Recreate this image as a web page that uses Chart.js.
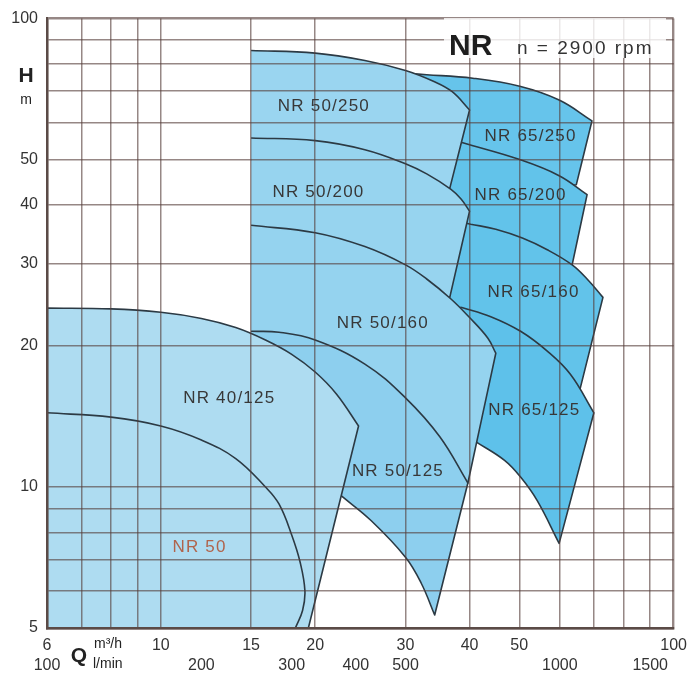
<!DOCTYPE html>
<html>
<head>
<meta charset="utf-8">
<script src="https://cdn.jsdelivr.net/npm/chart.js@4.4.1/dist/chart.umd.min.js"></script>
<style>
body{margin:0;background:#fff;}
#wrap{width:695px;height:678px;}
</style>
</head>
<body>
<div id="wrap"><canvas id="nrChart" width="695" height="678"></canvas></div>
<script>
// Q in m3/h, H in m  (log / log)
const qGrid = [6,7,8,9,10,15,20,30,40,50,60,70,80,90,100];
const hGrid = [5,6,7,8,9,10,20,30,40,50,60,70,80,90,100];
const qTicks = [6,10,15,20,30,40,50,100];
const hTicks = [5,10,20,30,40,50,100];
const lminTicks = [100,200,300,400,500,1000,1500];

// pump fields: outline as pieces of [Q, H], a new piece starts at each corner
const nr40_125 = [
  [[6,5],[6,24.1]],
  [[6,24.1],[8,24.0],[10,23.6],[12,22.9],[14,21.9],[16,20.6],[18,19.2],[20,17.6],[22,15.8],[24.3,13.5]],
  [[24.3,13.5],[19.4,5]],
  [[19.4,5],[6,5]]
];
const nr50 = [[6,14.4],[8,14.1],[10,13.5],[12,12.6],[14,11.5],[16,10.0],[17,9.2],[18,7.9],[18.7,6.9],[19.1,6.0],[18.9,5.45],[18.3,5]];
const nr50_125 = [
  [[15,21.5],[17,21.4],[20,20.6],[25,18.3],[30,15.5],[35,12.8],[39.7,10.2]],
  [[39.7,10.2],[34.2,5.33]],
  [[34.2,5.33],[32.2,6.23],[30,7.08],[25.7,8.48],[22.5,9.57]],
  [[22.5,9.57],[20,12]],[[20,12],[15,15]],[[15,15],[15,21.5]]
];
const nr50_160 = [
  [[15,36.2],[20,34.9],[25,32.6],[30,29.8],[33,27.8],[36.8,25.2],[40,23.0],[43.4,20.8],[45,19.3]],
  [[45,19.3],[39.7,10.2]],
  [[39.7,10.2],[15,15]],[[15,15],[15,36.2]]
];
const nr50_200 = [
  [[15,55.6],[20,54.9],[25,52.5],[30,49.0],[33,46.6],[36.8,43.2],[38.5,41.2],[40,38.8]],
  [[40,38.8],[36.6,25.4]],
  [[36.6,25.4],[15,30]],[[15,30],[15,55.6]]
];
const nr50_250 = [
  [[15,85.5],[20,84.4],[25,81.4],[30,77.5],[34,73.5],[37,69.8],[40,63.8]],
  [[40,63.8],[36.6,43.4]],
  [[36.6,43.4],[15,50]],[[15,50],[15,85.5]]
];
const nr65_125 = [
  [[38.5,24.2],[44.0,23.1],[50.3,21.5],[56.7,19.5],[62.9,17.4],[69.9,14.4]],
  [[69.9,14.4],[59.8,7.58]],
  [[59.8,7.58],[54.2,9.35],[50.3,10.5],[46.8,11.4],[41.1,12.5]],
  [[41.1,12.5],[30,12]],[[30,12],[30,22]],[[30,22],[38.5,24.2]]
];
const nr65_160 = [
  [[40.2,36.4],[45,35.5],[50.7,34.0],[56.7,32.1],[63.4,29.8],[67.8,27.8],[72.8,25.4]],
  [[72.8,25.4],[65.7,16.2]],
  [[65.7,16.2],[50,18]],[[50,18],[34,22]],[[34,22],[34,38]],[[34,38],[40.2,36.4]]
];
const nr65_200 = [
  [[38.8,54.3],[50.1,50.0],[59.8,46.2],[67.8,42.1]],
  [[67.8,42.1],[63.4,29.8]],
  [[63.4,29.8],[50,28]],[[50,28],[34,40]],[[34,40],[34,56]],[[34,56],[38.8,54.3]]
];
const nr65_250 = [
  [[29,76.5],[33,75.9],[40.6,74.6],[50.1,71.7],[59.8,67.0],[69.3,60.5]],
  [[69.3,60.5],[64.6,44.2]],
  [[64.6,44.2],[60,44]],[[60,44],[50,46]],[[50,46],[34,50]],[[34,50],[28,72]],[[28,72],[29,76.5]]
];

const regionNames = ['NR 50/250','NR 50/200','NR 50/160','NR 40/125','NR 50/125','NR 50','NR 65/250','NR 65/200','NR 65/160','NR 65/125'];
const regionLabelQ = [20.8,20.3,27.1,13.6,29.0,11.9,52.6,50.3,53.3,53.5];
const regionLabelH = [65.0,42.5,22.4,15.5,10.8,7.43,56.1,41.9,26.1,14.6];

const EDGE = '#2c3a44';
const GRID = 'rgba(85,62,58,0.62)';
const FRAME = '#5b4b47';
const TENSION = 0.4;
const SERIES_START = 15; // the 50 fields start on the Q = 15 grid line

function pts(a){ return a.map(p=>({x:p[0],y:p[1]})); }
// joining the pieces repeats each corner point, so the spline keeps the corners sharp
function outline(pieces){ return pts([].concat(...pieces)); }
function area(pieces,col){
  return {data:outline(pieces),fill:'shape',backgroundColor:col,borderColor:EDGE,borderWidth:1.6,
    pointRadius:0,tension:TENSION,borderJoinStyle:'round',
    segment:{borderColor: c => (c.p0.parsed.x===SERIES_START && c.p1.parsed.x===SERIES_START) ? 'rgba(0,0,0,0)' : undefined}};
}
function near(list,v){ return list.some(t=>Math.abs(t-v)<1e-6); }

const lminAsQ = lminTicks.map(l=>l*60/1000);
const xTickVals = Array.from(new Set(qGrid.concat(qTicks,lminAsQ))).sort((a,b)=>a-b);

// first dataset is drawn on top
const datasets = [
  {data:pts(nr50),fill:false,borderColor:EDGE,borderWidth:1.6,pointRadius:0,tension:TENSION},
  area(nr40_125,'#aedcf1'),
  area(nr50_125,'#8dcfee'),
  area(nr50_160,'#95d3ef'),
  area(nr50_200,'#97d4ef'),
  area(nr50_250,'#9ad5f0'),
  area(nr65_125,'#5ec1ea'),
  area(nr65_160,'#62c3ea'),
  area(nr65_200,'#62c3ea'),
  area(nr65_250,'#66c4eb')
];

const textPlugin = {
  id:'textPlugin',
  afterDraw(chart){
    const ctx=chart.ctx, xs=chart.scales.x, ys=chart.scales.y;
    ctx.save();
    ctx.textAlign='center'; ctx.textBaseline='middle';
    ctx.font='17px "Liberation Sans", Arial, sans-serif';
    try{ ctx.letterSpacing='1.2px'; }catch(e){}
    regionNames.forEach((n,i)=>{
      ctx.fillStyle = n==='NR 50' ? '#b0644c' : '#383838';
      ctx.fillText(n, xs.getPixelForValue(regionLabelQ[i]), ys.getPixelForValue(regionLabelH[i]));
    });
    // title box
    ctx.fillStyle='rgba(255,255,255,0.82)';
    ctx.fillRect(444,18,222,40);
    ctx.textAlign='left'; ctx.textBaseline='alphabetic';
    ctx.fillStyle='#1e1e1e';
    try{ ctx.letterSpacing='0px'; }catch(e){}
    ctx.font='bold 30px "Liberation Sans", Arial, sans-serif';
    ctx.fillText('NR',449,55);
    ctx.fillStyle='#333';
    try{ ctx.letterSpacing='2px'; }catch(e){}
    ctx.font='19px "Liberation Sans", Arial, sans-serif';
    ctx.fillText('n = 2900 rpm',517,54);
    // axis names
    try{ ctx.letterSpacing='0px'; }catch(e){}
    ctx.textAlign='center'; ctx.textBaseline='middle';
    ctx.fillStyle='#222';
    ctx.font='bold 21px "Liberation Sans", Arial, sans-serif';
    ctx.fillText('H',26,76);
    ctx.fillText('Q',79,656);
    ctx.font='14px "Liberation Sans", Arial, sans-serif';
    ctx.fillText('m',26,100);
    ctx.textAlign='left';
    ctx.fillText('m³/h',94,644);
    ctx.fillText('l/min',93,664);
    ctx.restore();
  }
};

const chart = new Chart(document.getElementById('nrChart').getContext('2d'),{
  type:'line',
  data:{datasets:datasets},
  plugins:[textPlugin],
  options:{
    responsive:false, animation:false,
    layout:{padding:{left:0,right:18,top:15,bottom:0}},
    plugins:{legend:{display:false},tooltip:{enabled:false}},
    scales:{
      x:{
        type:'logarithmic', min:6, max:100,
        afterBuildTicks: ax => { ax.ticks = xTickVals.map(v=>({value:v})); },
        afterFit: s => { s.height = 50; },
        grid:{z:1, drawTicks:false,
          color: c => near(qGrid,c.tick.value) ? GRID : 'rgba(0,0,0,0)',
          lineWidth: c => (c.tick.value===6||c.tick.value===100) ? 2.4 : 1.5},
        border:{display:true,color:FRAME,width:2.4,z:2},
        ticks:{autoSkip:false,maxRotation:0,minRotation:0,padding:8,color:'#333',
          font:{family:'"Liberation Sans", Arial, sans-serif',size:16,lineHeight:1.25},
          callback: v => {
            const top = near(qTicks,v) ? String(v) : '';
            const i = lminAsQ.findIndex(t=>Math.abs(t-v)<1e-6);
            return [top, i>=0 ? String(lminTicks[i]) : ''];
          }}
      },
      y:{
        type:'logarithmic', min:5, max:100,
        afterBuildTicks: ax => { ax.ticks = hGrid.map(v=>({value:v})); },
        afterFit: s => { s.width = 47; },
        grid:{z:1, drawTicks:false, color:GRID,
          lineWidth: c => (c.tick.value===5||c.tick.value===100) ? 2.4 : 1.5},
        border:{display:true,color:FRAME,width:2.4,z:2},
        ticks:{autoSkip:false,padding:9,color:'#333',
          font:{family:'"Liberation Sans", Arial, sans-serif',size:16},
          callback: v => near(hTicks,v) ? String(v) : ''}
      }
    }
  }
});
</script>
</body>
</html>
